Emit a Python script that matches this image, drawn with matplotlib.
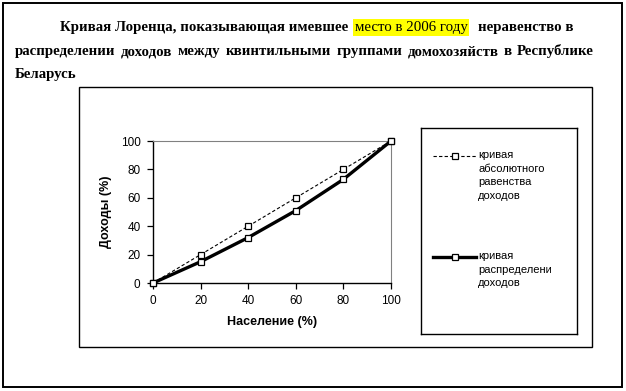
import matplotlib
matplotlib.use("Agg")
import matplotlib.pyplot as plt
from matplotlib.patches import Rectangle
from matplotlib.lines import Line2D

# данные
naselenie = [0, 20, 40, 60, 80, 100]
ravenstvo = [0, 20, 40, 60, 80, 100]
raspredelenie = [0, 15, 32, 51, 73, 100]
tiki = [0, 20, 40, 60, 80, 100]
legenda = ["кривая\nабсолютного\nравенства\nдоходов", "кривая\nраспределени\nдоходов"]

W, H = 626, 391
fig = plt.figure(figsize=(W / 100, H / 100), dpi=100)


def fx(x):
    return x / W


def fy(y):
    return 1 - y / H


def caja(x0, y0, x1, y1, lw=1.0):
    fig.add_artist(Rectangle((fx(x0), fy(y1)), fx(x1) - fx(x0), fy(y0) - fy(y1),
                             transform=fig.transFigure, fill=False, lw=lw, ec="black"))


# marcos
caja(3, 3, 622, 387, lw=1.4)
caja(79, 87, 592, 347, lw=1.0)

# titulo
serif = "Liberation Serif"
r = fig.canvas.get_renderer()
linea2 = "распределении доходов между квинтильными группами домохозяйств в Республике".split()


def ancho(t, size, weight="bold"):
    tt = fig.text(0, 0, t, fontsize=size, family=serif, weight=weight)
    w = tt.get_window_extent(renderer=r).width
    tt.remove()
    return w


fs = 12.0
while sum(ancho(p, fs) for p in linea2) + 4 * (len(linea2) - 1) > 579:
    fs -= 0.25

fig.text(fx(60), fy(31), "Кривая Лоренца, показывающая имевшее", fontsize=fs,
         family=serif, weight="bold", va="baseline", ha="left")
fig.text(fx(411), fy(31), "место в 2006 году", fontsize=fs, family=serif,
         va="baseline", ha="center",
         bbox=dict(boxstyle="square,pad=0.12", fc="#ffff00", ec="none"))
fig.text(fx(573), fy(31), "неравенство в", fontsize=fs, family=serif,
         weight="bold", va="baseline", ha="right")

anchos = [ancho(p, fs) for p in linea2]
gap = (579 - sum(anchos)) / (len(linea2) - 1)
x = 15
for p, w in zip(linea2, anchos):
    fig.text(fx(x), fy(55), p, fontsize=fs, family=serif, weight="bold", va="baseline")
    x += w + gap
fig.text(fx(15), fy(78), "Беларусь", fontsize=fs, family=serif, weight="bold", va="baseline")

# grafico
sans = "Liberation Sans"
ax = fig.add_axes([fx(153), fy(283), fx(391) - fx(153), fy(141) - fy(283)])
ax.plot(naselenie, ravenstvo, ls=(0, (3, 2)), lw=0.8, color="black", marker="s",
        ms=5, mfc="white", mec="black", mew=0.9, clip_on=False, zorder=3)
ax.plot(naselenie, raspredelenie, ls="-", lw=2.4, color="black", marker="s",
        ms=5, mfc="white", mec="black", mew=0.9, clip_on=False, zorder=4)
ax.set_xlim(0, 100)
ax.set_ylim(0, 100)
ax.set_xticks(tiki)
ax.set_yticks(tiki)
ax.tick_params(direction="out", length=4, width=0.9, labelsize=8.5, pad=5)
for lab in ax.get_xticklabels() + ax.get_yticklabels():
    lab.set_family(sans)
for s in ["top", "right"]:
    ax.spines[s].set_color("#808080")
    ax.spines[s].set_linewidth(0.8)
for s in ["left", "bottom"]:
    ax.spines[s].set_linewidth(1.0)
ax.set_xlabel("Население (%)", fontsize=9, family=sans, weight="bold", labelpad=6)
ax.set_ylabel("Доходы (%)", fontsize=9, family=sans, weight="bold", labelpad=6)

# leyenda
lg = fig.add_axes([fx(421), fy(334), fx(577) - fx(421), fy(128) - fy(334)])
lg.set_xlim(421, 577)
lg.set_ylim(334, 128)
lg.set_xticks([])
lg.set_yticks([])
for s in lg.spines.values():
    s.set_linewidth(1.0)
lg.add_line(Line2D([433, 476], [156, 156], ls=(0, (3, 2)), lw=0.8, color="black"))
lg.plot([454.5], [156], marker="s", ms=5, mfc="white", mec="black", mew=0.9)
lg.add_line(Line2D([433, 476], [257, 257], ls="-", lw=2.4, color="black"))
lg.plot([454.5], [257], marker="s", ms=5, mfc="white", mec="black", mew=0.9)
lg.text(478, 150, legenda[0], fontsize=8, family=sans, va="top", linespacing=1.45)
lg.text(478, 251, legenda[1], fontsize=8, family=sans, va="top", linespacing=1.45,
        clip_on=True)

fig.savefig("out.png", dpi=100)
